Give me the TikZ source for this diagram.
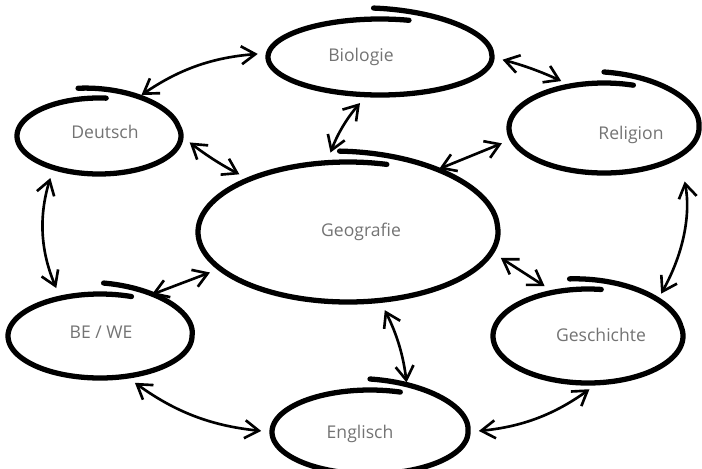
\documentclass[tikz,border=0pt]{standalone}
\usepackage{fontspec}
\setsansfont{Open Sans}
\usepackage{tikz}
\usetikzlibrary{shapes.geometric,arrows.meta}
\def\ring[#1](#2)(#3:#4:#5){\draw[#1,shift={(#2)}] plot[domain=0:378,samples=160,smooth] ({(#4+11*max(0,\x-290)/88)*cos(\x+#3)},{(#5+11*max(0,\x-290)/88)*sin(\x+#3)})}

\begin{document}
\begin{tikzpicture}[x=0.02cm,y=0.02cm,
        subject/.style={ellipse,inner sep=0pt},
        stroke/.style={line width=3pt,line cap=round},
        word/.style={text=black!55,font=\sffamily\fontsize{10}{12}\selectfont},
        link/.style={{Straight Barb[length=2.8mm,width=3.6mm]}-{Straight Barb[length=2.8mm,width=3.6mm]},line width=1.5pt,shorten <=6pt,shorten >=6pt}]
            \useasboundingbox (0,0) rectangle (702,468);
            \node[subject,minimum width=4.48cm,minimum height=1.52cm] (bio) at (380,411) {};
            \node[subject,minimum width=3.28cm,minimum height=1.52cm] (deu) at (99,332) {};
            \node[subject,minimum width=3.8cm,minimum height=1.8cm] (rel) at (604,340) {};
            \node[subject,minimum width=6cm,minimum height=2.8cm] (geo) at (348,236) {};
            \node[subject,minimum width=3.68cm,minimum height=1.68cm] (bwe) at (100,132) {};
            \node[subject,minimum width=3.8cm,minimum height=1.88cm] (ges) at (588,132) {};
            \node[subject,minimum width=3.92cm,minimum height=1.68cm] (eng) at (370,36) {};
            \ring[stroke](bio.center)(75:112:38);
            \ring[stroke](deu.center)(85:82:38);
            \ring[stroke](rel.center)(72:95:45);
            \ring[stroke](geo.center)(75:150:70);
            \ring[stroke](bwe.center)(70:92:42);
            \ring[stroke](ges.center)(82:95:47);
            \ring[stroke](eng.center)(72:98:42);
            \node[word] (bio-t) at (361,411) {Biologie};
            \node[word] (deu-t) at (105,336) {Deutsch};
            \node[word] (rel-t) at (631,333) {Religion};
            \node[word] (geo-t) at (361,236) {Geografie};
            \node[word] (bwe-t) at (101,136) {BE / WE};
            \node[word] (ges-t) at (601,133) {Geschichte};
            \node[word] (eng-t) at (360,34) {Englisch};
            \draw[link] (deu.46) to[bend left=15] (bio.178);
            \draw[link] (bio.0) to[bend left=5] (rel.128);
            \draw[link] (bio.251) to[bend right=10] (geo.107);
            \draw[link] (deu.0) to[bend right=5] (geo.152);
            \draw[link] (rel.187) to (geo.36);
            \draw[link] (deu.215) to[bend right=20] (bwe.136);
            \draw[link] (geo.196) to (bwe.42);
            \draw[link,shorten <=15pt] (rel.340) to[bend left=20] (ges.26);
            \draw[link] (geo.-8) to (ges.128);
            \draw[link] (geo.-65) to[bend left=10] (eng.46);
            \draw[link] (bwe.-57) to[bend right=15] (eng.180);
            \draw[link] (eng.0) to[bend right=15] (ges.-78);
        \end{tikzpicture}
\end{document}
